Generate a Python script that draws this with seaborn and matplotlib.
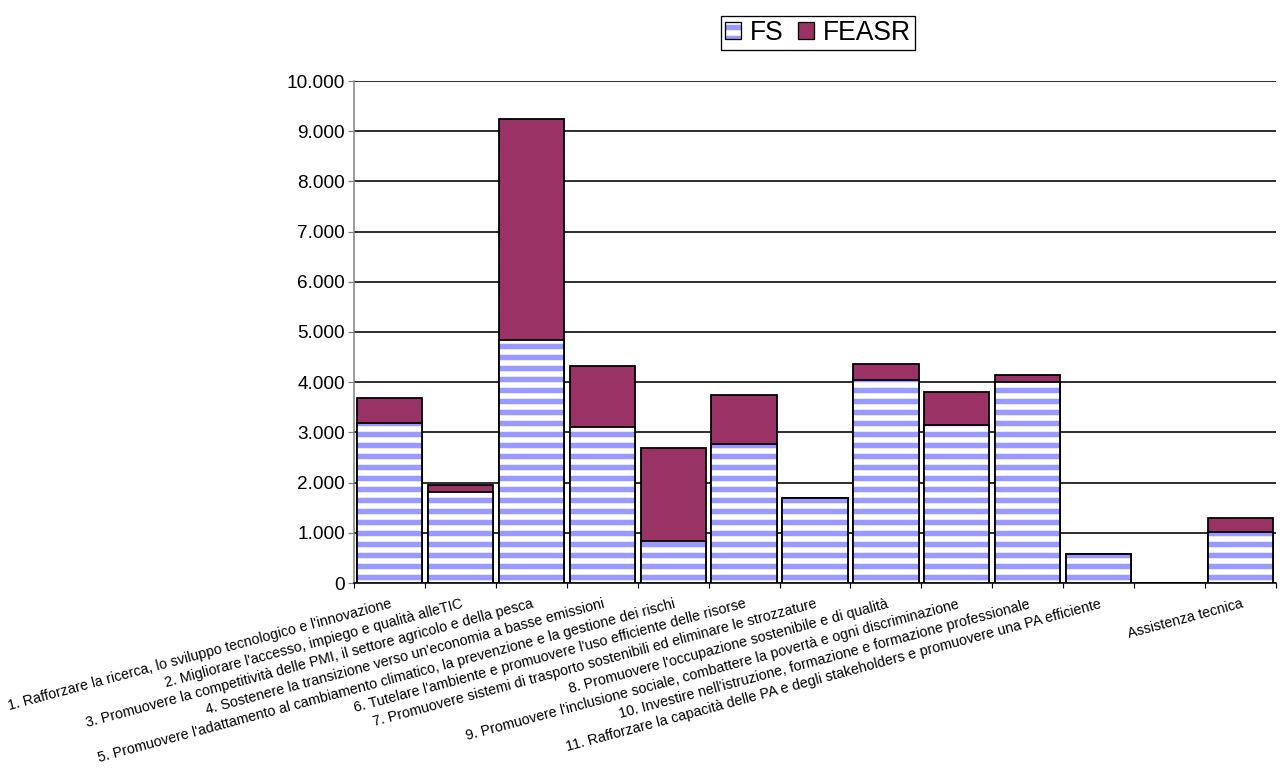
import matplotlib
matplotlib.use("Agg")
import matplotlib.pyplot as plt
from matplotlib.patches import Patch
from matplotlib.legend_handler import HandlerTuple
from matplotlib.ticker import FuncFormatter
import numpy as np
import pandas as pd
import seaborn as sns

# Allocations by thematic objective (FS and FEASR), values in millions
categories = [
    "1. Rafforzare la ricerca, lo sviluppo tecnologico e l'innovazione",
    "2. Migliorare l'accesso, impiego e qualità alleTIC",
    "3. Promuovere la competitività delle PMI, il settore agricolo e della pesca",
    "4. Sostenere la transizione verso un'economia a basse emissioni",
    "5. Promuovere l'adattamento al cambiamento climatico, la prevenzione e la gestione dei rischi",
    "6. Tutelare l'ambiente e promuovere l'uso efficiente delle risorse",
    "7. Promuovere sistemi di trasporto sostenibili ed eliminare le strozzature",
    "8. Promuovere l'occupazione sostenibile e di qualità",
    "9. Promuovere l'inclusione sociale, combattere la povertà e ogni discriminazione",
    "10. Investire nell'istruzione, formazione e formazione professionale",
    "11. Rafforzare la capacità delle PA e degli stakeholders e promuovere una PA efficiente",
    "",
    "Assistenza tecnica",
]
fs_values = [3190, 1810, 4840, 3110, 840, 2760, 1690, 4040, 3150, 4010, 580, 0, 1020]
feasr_values = [500, 140, 4410, 1210, 1850, 980, 0, 320, 650, 130, 0, 0, 270]
y_ticks = list(range(0, 10001, 1000))
series_names = ["FS", "FEASR"]

DPI = 66


def pt(px):
    return px * 72 / DPI


FS_BLUE = "#9999FF"
FEASR_PLUM = "#993366"

sns.set_style("white")
plt.rcParams["font.family"] = ["Liberation Sans", "DejaVu Sans"]
plt.rcParams["hatch.linewidth"] = pt(5.5)
plt.rcParams["text.color"] = "black"
plt.rcParams["xtick.color"] = "black"
plt.rcParams["ytick.color"] = "black"

keys = [f"c{i}" for i in range(len(categories))]
df = pd.DataFrame({"key": keys, "FS": fs_values, "FEASR": feasr_values})
df["total"] = df["FS"] + df["FEASR"]

fig = plt.figure(figsize=(1280 / DPI, 769 / DPI), dpi=DPI)
ax = fig.add_axes([354 / 1280, 1 - 583 / 769, (1276 - 354) / 1280, (583 - 81) / 769])

bar_w = 0.92
edge_lw = pt(1.8)

# FEASR stacked on FS: draw the total first, then FS over it
sns.barplot(data=df, x="key", y="total", order=keys, color=FEASR_PLUM,
            saturation=1, width=bar_w, edgecolor="black", linewidth=edge_lw,
            zorder=2, ax=ax)
sns.barplot(data=df, x="key", y="FS", order=keys, color="white",
            saturation=1, width=bar_w, edgecolor=FS_BLUE, linewidth=0,
            hatch="-", zorder=3, ax=ax)
sns.barplot(data=df, x="key", y="FS", order=keys, color="black", fill=False,
            saturation=1, width=bar_w, linewidth=edge_lw, zorder=4, ax=ax)

ax.set_xlim(-0.5, len(categories) - 0.5)
ax.set_ylim(0, 10000)
ax.set_xlabel("")
ax.set_ylabel("")

# y axis
ax.set_yticks(y_ticks)
ax.yaxis.set_major_formatter(FuncFormatter(lambda v, _: f"{v:,.0f}".replace(",", ".")))
ax.tick_params(axis="y", which="major", left=True, length=pt(6), width=pt(1.2),
               color="#808080", labelsize=pt(19), labelcolor="black", pad=pt(3))
ax.yaxis.grid(True, color="black", linewidth=pt(1.6))
ax.xaxis.grid(False)
ax.set_axisbelow(True)

# x axis: labels at bar centres, tick marks between categories
ax.set_xticks(range(len(categories)))
ax.set_xticklabels(categories, rotation=15, ha="right", rotation_mode="anchor",
                   fontsize=pt(14.3), color="black")
ax.tick_params(axis="x", which="major", length=0, pad=pt(14))
ax.set_xticks(np.arange(-0.5, len(categories), 1), minor=True)
ax.tick_params(axis="x", which="minor", bottom=True, length=pt(5), width=pt(1.2),
               color="black")

for side in ("top", "right"):
    ax.spines[side].set_visible(False)
ax.spines["left"].set_color("#808080")
ax.spines["left"].set_linewidth(pt(1.5))
ax.spines["bottom"].set_color("black")
ax.spines["bottom"].set_linewidth(pt(1.6))

# legend
leg_fs = 26.5
fs_handle = (
    Patch(facecolor="white", edgecolor=FS_BLUE, linewidth=0, hatch="-"),
    Patch(facecolor="none", edgecolor="black", linewidth=pt(1.3)),
)
feasr_handle = Patch(facecolor=FEASR_PLUM, edgecolor="black", linewidth=pt(1.3))
leg = fig.legend([fs_handle, feasr_handle], series_names,
                 handler_map={tuple: HandlerTuple(ndivide=1)},
                 loc="center", bbox_to_anchor=(818 / 1280, 1 - 33 / 769),
                 ncol=2, fontsize=pt(leg_fs), frameon=True, fancybox=False,
                 edgecolor="black", framealpha=1, shadow=False,
                 handlelength=16 / leg_fs, handleheight=16 / leg_fs,
                 handletextpad=9 / leg_fs, columnspacing=14 / leg_fs,
                 borderpad=0.15, borderaxespad=0)
leg.get_frame().set_linewidth(pt(1.3))
for t in leg.get_texts():
    t.set_color("black")

fig.savefig("out.png", dpi=DPI)
